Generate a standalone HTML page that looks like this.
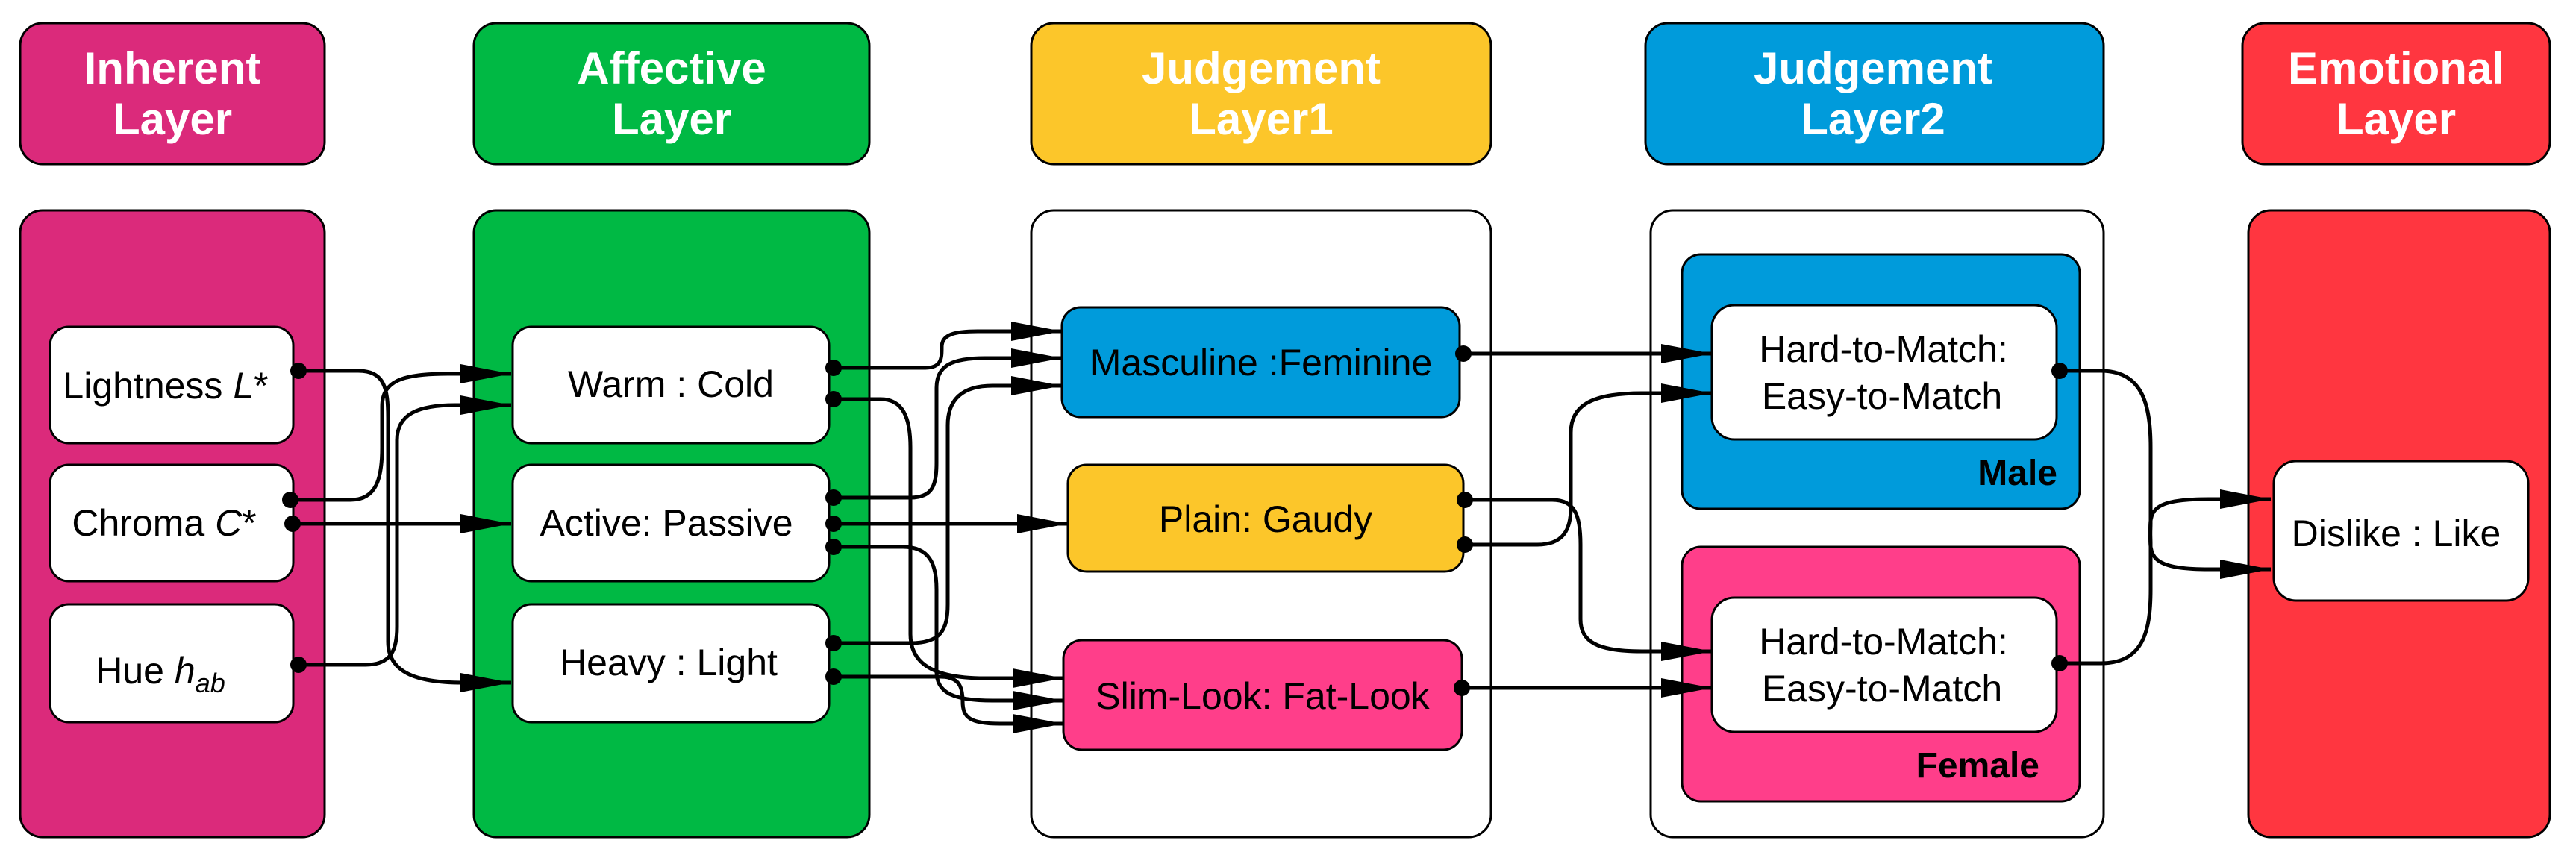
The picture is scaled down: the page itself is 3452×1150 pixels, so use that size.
<!DOCTYPE html>
<html><head><meta charset="utf-8"><style>
html,body{margin:0;padding:0;background:#fff;}
svg{display:block;}
text{font-family:"Liberation Sans",Arial,sans-serif;}
.h{font-weight:bold;font-size:60px;fill:#fff;text-anchor:middle;}
.t{font-size:50px;fill:#000;text-anchor:middle;}
.c{fill:none;stroke:#000;stroke-width:5;}
</style></head><body>
<svg width="3452" height="1150" viewBox="0 0 3452 1150" xmlns="http://www.w3.org/2000/svg">
<defs>
<marker id="a" markerWidth="70" markerHeight="30" refX="68" refY="13" orient="auto" markerUnits="userSpaceOnUse">
<path d="M0,0 L68,13 L0,26 Z" fill="#000"/>
</marker>
</defs>
<g stroke="#000" stroke-width="3">
<!-- headers -->
<rect x="27" y="31" width="408" height="189" rx="30" fill="#DB2A7B"/>
<rect x="635" y="31" width="530" height="189" rx="30" fill="#00B944"/>
<rect x="1382" y="31" width="616" height="189" rx="30" fill="#FCC62A"/>
<rect x="2205" y="31" width="614" height="189" rx="30" fill="#009BDB"/>
<rect x="3005" y="31" width="412" height="189" rx="30" fill="#FF3640"/>
<!-- bodies -->
<rect x="27" y="282" width="408" height="840" rx="30" fill="#DB2A7B"/>
<rect x="635" y="282" width="530" height="840" rx="30" fill="#00B944"/>
<rect x="1382" y="282" width="616" height="840" rx="30" fill="#fff"/>
<rect x="2212" y="282" width="607" height="840" rx="30" fill="#fff"/>
<rect x="3013" y="282" width="404" height="840" rx="30" fill="#FF3640"/>
<!-- inherent inner -->
<rect x="67" y="438" width="326" height="156" rx="25" fill="#fff"/>
<rect x="67" y="623" width="326" height="156" rx="25" fill="#fff"/>
<rect x="67" y="810" width="326" height="158" rx="25" fill="#fff"/>
<!-- affective inner -->
<rect x="687" y="438" width="424" height="156" rx="25" fill="#fff"/>
<rect x="687" y="623" width="424" height="156" rx="25" fill="#fff"/>
<rect x="687" y="810" width="424" height="158" rx="25" fill="#fff"/>
<!-- JL1 inner -->
<rect x="1423" y="412" width="533" height="147" rx="25" fill="#009BDB"/>
<rect x="1431" y="623" width="530" height="143" rx="25" fill="#FCC62A"/>
<rect x="1425" y="858" width="534" height="147" rx="25" fill="#FF3E8A"/>
<!-- JL2 groups -->
<rect x="2254" y="341" width="533" height="341" rx="25" fill="#009BDB"/>
<rect x="2254" y="733" width="533" height="341" rx="25" fill="#FF3E8A"/>
<rect x="2294" y="409" width="462" height="180" rx="30" fill="#fff"/>
<rect x="2294" y="801" width="462" height="180" rx="30" fill="#fff"/>
<!-- emotional inner -->
<rect x="3047" y="618" width="341" height="187" rx="30" fill="#fff"/>
</g>

<!-- header texts -->
<text class="h" x="231" y="112">Inherent</text><text class="h" x="231" y="180">Layer</text>
<text class="h" x="900" y="112">Affective</text><text class="h" x="900" y="180">Layer</text>
<text class="h" x="1690" y="112">Judgement</text><text class="h" x="1690" y="180">Layer1</text>
<text class="h" x="2510" y="112">Judgement</text><text class="h" x="2510" y="180">Layer2</text>
<text class="h" x="3211" y="112">Emotional</text><text class="h" x="3211" y="180">Layer</text>

<!-- inner texts -->
<text class="t" x="222" y="534">Lightness <tspan font-style="italic">L</tspan>*</text>
<text class="t" x="220" y="718">Chroma <tspan font-style="italic">C</tspan>*</text>
<text class="t" x="215" y="916" font-size="54">Hue <tspan font-style="italic">h</tspan><tspan font-style="italic" font-size="36" dy="12">ab</tspan></text>
<text class="t" x="899" y="532">Warm : Cold</text>
<text class="t" x="893" y="718">Active: Passive</text>
<text class="t" x="896" y="905">Heavy : Light</text>
<text class="t" x="1690" y="503">Masculine :Feminine</text>
<text class="t" x="1696" y="713">Plain: Gaudy</text>
<text class="t" x="1692" y="950">Slim-Look: Fat-Look</text>
<text class="t" x="2524" y="485">Hard-to-Match:</text>
<text class="t" x="2522" y="548">Easy-to-Match</text>
<text class="t" x="2524" y="877">Hard-to-Match:</text>
<text class="t" x="2522" y="940">Easy-to-Match</text>
<text x="2757" y="650" font-size="48" font-weight="bold" text-anchor="end">Male</text>
<text x="2733" y="1042" font-size="48" font-weight="bold" text-anchor="end">Female</text>
<text class="t" x="3211" y="732">Dislike : Like</text>

<!-- connectors -->
<g class="c" marker-end="url(#a)">
<path d="M400 497 H480 C515 497 520 520 520 560 V860 C520 900 555 915 620 915 H685"/>
<path d="M389 670 H470 C505 670 512 640 512 600 V545 C512 510 540 501 600 501 H685"/>
<path d="M392 702 H685"/>
<path d="M400 891 H490 C525 891 532 870 532 840 V590 C532 555 560 543 610 543 H685"/>

<path d="M1117 493 H1240 C1262 493 1262 480 1262 465 C1262 448 1280 444 1310 444 H1423"/>
<path d="M1117 535 H1180 C1210 535 1220 560 1220 600 V850 C1220 895 1260 909 1320 909 H1425"/>
<path d="M1117 667 H1220 C1250 667 1255 650 1255 620 V520 C1255 490 1275 480 1320 480 H1423"/>
<path d="M1117 702 H1431"/>
<path d="M1117 733 H1210 C1245 733 1255 755 1255 790 V900 C1255 930 1280 939 1330 939 H1425"/>
<path d="M1117 862 H1220 C1260 862 1270 845 1270 810 V570 C1270 535 1290 517 1330 517 H1423"/>
<path d="M1117 907 H1260 C1285 907 1290 920 1290 940 C1290 962 1300 970 1340 970 H1425"/>

<path d="M1961 474 H2294"/>
<path d="M1963 670 H2080 C2110 670 2118 690 2118 730 V830 C2118 860 2140 873 2200 873 H2294"/>
<path d="M1963 730 H2060 C2095 730 2105 710 2105 680 V580 C2105 545 2130 527 2200 527 H2294"/>
<path d="M1959 922 H2294"/>

<path d="M2760 497 H2815 C2870 497 2882 540 2882 600 V700 C2882 740 2870 763 2960 763 H3043"/>
<path d="M2760 889 H2815 C2870 889 2882 850 2882 790 V730 C2882 690 2870 669 2960 669 H3043"/>
</g>

<!-- dots -->
<g fill="#000">
<circle cx="400" cy="497" r="11"/><circle cx="389" cy="670" r="11"/><circle cx="392" cy="702" r="11"/><circle cx="400" cy="891" r="11"/>
<circle cx="1117" cy="493" r="11"/><circle cx="1117" cy="535" r="11"/>
<circle cx="1117" cy="667" r="11"/><circle cx="1117" cy="702" r="11"/><circle cx="1117" cy="733" r="11"/>
<circle cx="1117" cy="862" r="11"/><circle cx="1117" cy="907" r="11"/>
<circle cx="1961" cy="474" r="11"/><circle cx="1963" cy="670" r="11"/><circle cx="1963" cy="730" r="11"/><circle cx="1959" cy="922" r="11"/>
<circle cx="2760" cy="497" r="11"/><circle cx="2760" cy="889" r="11"/>
</g>
</svg>
</body></html>
